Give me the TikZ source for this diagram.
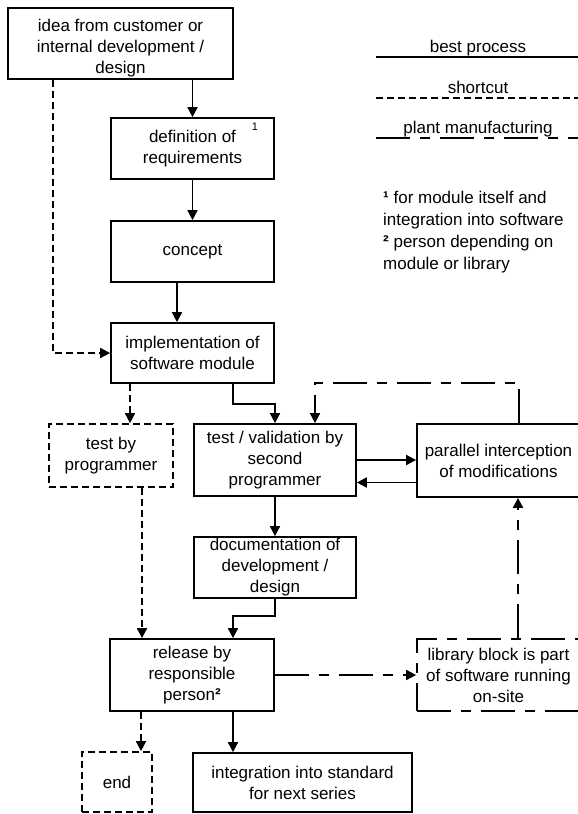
\documentclass[tikz,border=0pt]{standalone}
\usepackage{fontspec}
\setmainfont{Liberation Sans}
\usetikzlibrary{arrows.meta,calc}

\begin{document}
\begin{tikzpicture}[x=1pt,y=-1pt,
  every node/.style={font=\fontsize{17}{21}\selectfont, inner sep=0pt, align=center},
  procbox/.style={draw, line width=1.7pt},
  shortdash/.style={dash pattern=on 7pt off 4pt},
  plantdash/.style={dash pattern=on 34pt off 10pt on 10pt off 10pt},
  shortbox/.style={procbox, shortdash},
  plantbox/.style={procbox, plantdash},
  link/.style={line width=1.7pt, -{Triangle[length=10pt,width=10pt]}},
  plain/.style={line width=1.7pt}
]
% page area
\fill[white] (0,0) rectangle (578,814);
\useasboundingbox (0,0) rectangle (578,814);

% process boxes
\node[procbox, minimum width=225pt, minimum height=71pt] (idea) at (120.5,43.5) {};
\node (ideatext) at (120.5,48.5) {idea from customer or\\internal development /\\design};
\node[procbox, minimum width=163pt, minimum height=61pt] (req) at (192.5,148.5)
  {definition of\\requirements};
\node[font=\fontsize{11}{13}\selectfont] (reqmark) at ([xshift=-20pt,yshift=-10pt]req.north east) {1};
\node[procbox, minimum width=163pt, minimum height=61pt] (concept) at (192.5,251.5)
  {concept};
\node[procbox, minimum width=163pt, minimum height=60pt] (impl) at (192.5,353)
  {implementation of\\software module};
\node[shortbox, minimum width=124pt, minimum height=63pt] (tprog) at (111,455.5)
  {test by\\programmer};
\node[procbox, minimum width=162pt, minimum height=72pt] (tval) at (275,460)
  {test / validation by\\second\\programmer};
\node[procbox, minimum width=166pt, minimum height=73pt] (para) at (500,460.5) {};
\node (paratext) at (498.5,460.5) {parallel interception\\of modifications};
\node[procbox, minimum width=162pt, minimum height=61pt] (doc) at (275,567.5)
  {documentation of\\development /\\design};
\node[procbox, minimum width=164pt, minimum height=72pt] (release) at (192,675)
  {release by\\responsible\\person{\bfseries ²}};
\node[plantbox, minimum width=166pt, minimum height=72pt] (lib) at (500,675) {};
\node (libtext) at (498.5,675) {library block is part\\of software running\\on-site};
\node[shortbox, minimum width=70pt, minimum height=60pt] (end) at (117,782)
  {end};
\node[procbox, minimum width=219pt, minimum height=59pt] (integ) at (302.5,782.5)
  {integration into standard\\for next series};

% best process
\draw[link] (req.north |- idea.south) -- (req.north);
\draw[link] (req.south) -- (concept.north);
\draw[link] ([xshift=-15.5pt]concept.south) -- ([xshift=-15.5pt]concept.south |- impl.north);
\draw[link] ([xshift=40.5pt]impl.south) -- ++(0,20) -| (tval.north);
\draw[link] (tval.east) -- (tval.east -| para.west);
\draw[link] ([yshift=-22pt]para.west) -- ([yshift=-22pt]para.west -| tval.east);
\draw[link] (tval.south) -- (doc.north);
\draw[link] (doc.south) -- ++(0,17) -| ([xshift=41pt]release.north);
\draw[link] ([xshift=41pt]release.south) -- ([xshift=41pt]release.south |- integ.north);

% shortcuts
\draw[link, shortdash] ([xshift=-67.5pt]idea.south) |- (impl.west);
\draw[link, shortdash] ([xshift=-62.5pt]impl.south) -- ([xshift=-62.5pt]impl.south |- tprog.north);
\draw[link, shortdash] ([xshift=31pt]tprog.south) -- ([xshift=31pt]tprog.south |- release.north);
\draw[link, shortdash] ([xshift=-51pt]release.south) -- ([xshift=-51pt]release.south |- end.north);

% plant manufacturing
\draw[link, plantdash] ([xshift=19pt]para.north) -- ++(0,-40) -| ([xshift=40pt]tval.north);
\draw[link, plantdash] (release.east) -- (lib.west);
\draw[link, plantdash] ([xshift=18pt]lib.north) -- ([xshift=18pt]lib.north |- para.south);

% legend
\coordinate (bestL) at (376,57);   \coordinate (bestR) at (582,57);
\coordinate (shortL) at (376,98);  \coordinate (shortR) at (582,98);
\coordinate (plantL) at (376,138); \coordinate (plantR) at (582,138);
\draw[plain] (bestL) -- (bestR);
\draw[plain, shortdash] (shortL) -- (shortR);
\draw[plain, plantdash] (plantL) -- (plantR);
\node[anchor=base] (bestT) at (478,52) {best process};
\node[anchor=base] (shortT) at (478,93) {shortcut};
\node[anchor=base] (plantT) at (478,133) {plant manufacturing};

% footnotes
\node[anchor=base west] (fnA) at (383,203) {{\bfseries ¹} for module itself and};
\node[anchor=base west] (fnB) at (383,225) {integration into software};
\node[anchor=base west] (fnC) at (383,247) {{\bfseries ²} person depending on};
\node[anchor=base west] (fnD) at (383,269) {module or library};
\end{tikzpicture}
\end{document}
